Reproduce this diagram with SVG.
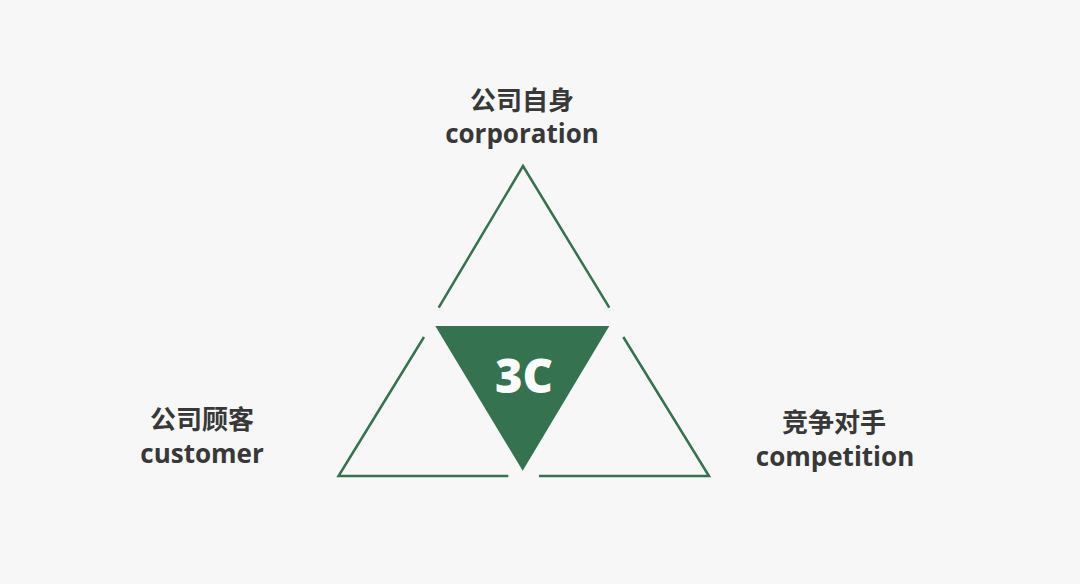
<svg xmlns="http://www.w3.org/2000/svg" width="1080" height="584" viewBox="0 0 1080 584">
<style>
.bg{fill:#f7f7f7}
.line{fill:none;stroke:#357350;stroke-width:2.5;stroke-linecap:butt;stroke-linejoin:miter}
.cn{font-family:"Noto Sans CJK SC","Noto Sans",sans-serif;font-weight:700;font-size:26px;fill:#383838;text-anchor:middle}
.en{font-family:"Open Sans","Noto Sans",sans-serif;font-weight:700;font-size:26px;fill:#383838;text-anchor:middle}
.c3{font-family:"Open Sans","Noto Sans",sans-serif;font-weight:800;font-size:47px;fill:#ffffff;text-anchor:middle}
</style>
<rect class="bg" x="0" y="0" width="1080" height="584"/>
<g id="corporation">
<polyline class="line" points="438.7,307.7 523,166 609.3,307.7"/>
<text class="cn" x="522" y="110">公司自身</text>
<text class="en" x="522" y="143">corporation</text>
</g>
<g id="customer">
<polyline class="line" points="424,337 338.5,476 508.3,476"/>
<text class="cn" x="202" y="429">公司顾客</text>
<text class="en" x="202" y="463">customer</text>
</g>
<g id="competition">
<polyline class="line" points="623.3,337 709,476 539,476"/>
<text class="cn" x="834" y="432">竞争对手</text>
<text class="en" x="835" y="466">competition</text>
</g>
<g id="center-3c">
<polygon fill="#357350" points="435.3,326 609.3,326 522.7,470.7"/>
<text class="c3" x="524" y="393">3C</text>
</g>
<g id="connectors"></g>
</svg>
